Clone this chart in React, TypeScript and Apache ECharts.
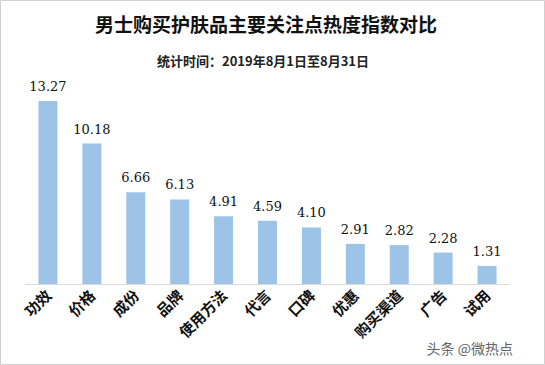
import React, { useEffect, useRef } from "react";
import * as echarts from "echarts";

const categories = ["功效", "价格", "成份", "品牌", "使用方法", "代言", "口碑", "优惠", "购买渠道", "广告", "试用"];
const values = [13.27, 10.18, 6.66, 6.13, 4.91, 4.59, 4.1, 2.91, 2.82, 2.28, 1.31];
const titleText = "男士购买护肤品主要关注点热度指数对比";
const subtitleText = "统计时间：2019年8月1日至8月31日";
const watermark = "头条 @微热点";

export default function App() {
  const ref = useRef<HTMLDivElement>(null);
  useEffect(() => {
    document.body.style.margin = "0";
    const chart = echarts.init(ref.current!, null, { renderer: "svg" });
    chart.setOption({
      animation: false,
      backgroundColor: "#ffffff",
      title: [
        {
          text: titleText,
          left: 90,
          top: 9,
          textStyle: { fontSize: 19, fontWeight: "bold", color: "#111", fontFamily: "Noto Sans CJK SC" },
        },
        {
          text: subtitleText,
          left: 152,
          top: 49,
          textStyle: { fontSize: 13, fontWeight: "bold", color: "#222", fontFamily: "Noto Sans CJK SC" },
        },
      ],
      graphic: [
        {
          type: "rect",
          shape: { x: 0.5, y: 0.5, width: 544, height: 364 },
          style: { fill: "none", stroke: "#d0d0d0", lineWidth: 1 },
          silent: true,
        },
        {
          type: "text",
          right: 32,
          top: 341,
          style: { text: watermark, fontSize: 14, fill: "#666", fontFamily: "Noto Sans CJK SC" },
        },
      ],
      grid: { left: 26, right: 36, top: 101, bottom: 81, containLabel: false },
      xAxis: {
        type: "category",
        data: categories,
        axisLine: { lineStyle: { color: "#d9d9d9" } },
        axisTick: { show: false },
        axisLabel: {
          rotate: 45,
          interval: 0,
          margin: 8,
          fontSize: 15,
          fontWeight: "bold",
          color: "#111",
          fontFamily: "Noto Sans CJK SC",
        },
      },
      yAxis: {
        type: "value",
        min: 0,
        max: 13.27,
        show: false,
        splitLine: { show: false },
      },
      series: [
        {
          type: "bar",
          data: values,
          barWidth: 19,
          itemStyle: { color: "#9dc3e6" },
          label: {
            show: true,
            position: "top",
            distance: 8,
            fontSize: 13,
            color: "#111",
            fontFamily: "DejaVu Serif",
            formatter: (p: any) => p.value.toFixed(2),
          },
        },
      ],
    });
    return () => chart.dispose();
  }, []);
  return <div ref={ref} style={{ width: 545, height: 365 }} />;
}
